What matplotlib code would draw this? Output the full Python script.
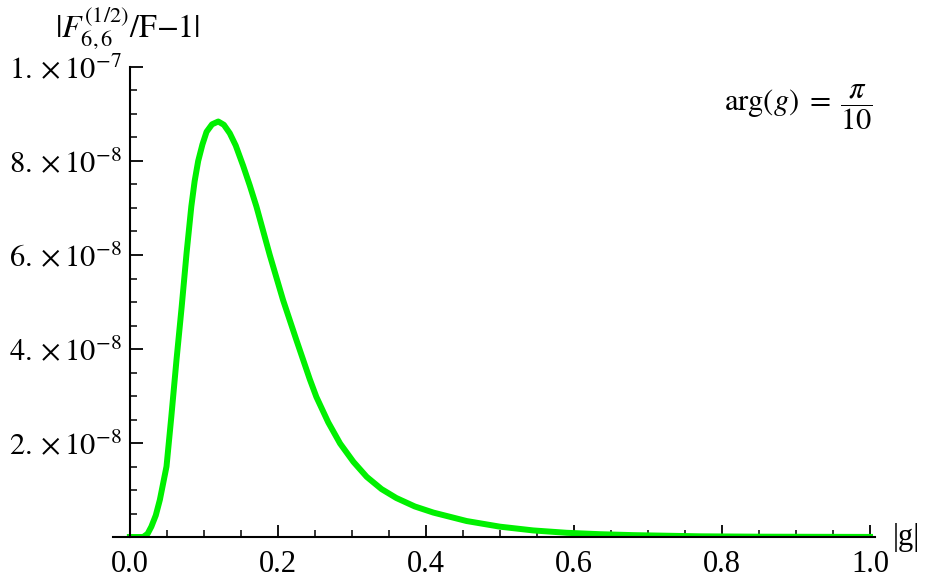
import matplotlib
matplotlib.use("Agg")
import matplotlib.pyplot as plt
from matplotlib.ticker import MultipleLocator, FixedLocator

plt.rcParams['mathtext.fontset'] = 'stix'
plt.rcParams['font.family'] = ['Liberation Serif', 'DejaVu Serif']

# curve: |g| and |F/F-1| (in units of 1e-7)
g = [0.0, 0.018, 0.024, 0.029, 0.035, 0.0405, 0.0495, 0.056, 0.063, 0.070,
     0.0766, 0.083, 0.0875, 0.0923, 0.098, 0.1036, 0.111, 0.1194, 0.127, 0.135,
     0.143, 0.153, 0.162, 0.171, 0.189, 0.207, 0.225, 0.243, 0.252, 0.268,
     0.284, 0.302, 0.320, 0.340, 0.360, 0.385, 0.41, 0.435, 0.455, 0.5,
     0.545, 0.59, 0.635, 0.68, 0.77, 0.85, 1.0]
dev = [0.0, 0.0, 0.007, 0.022, 0.046, 0.079, 0.150, 0.256, 0.377, 0.490,
       0.604, 0.703, 0.757, 0.800, 0.835, 0.862, 0.878, 0.884, 0.877, 0.859,
       0.833, 0.790, 0.748, 0.703, 0.600, 0.504, 0.419, 0.336, 0.298, 0.244,
       0.199, 0.160, 0.128, 0.102, 0.083, 0.065, 0.052, 0.042, 0.034, 0.022,
       0.014, 0.009, 0.006, 0.004, 0.0015, 0.0007, 0.0002]
dev = [v * 1e-7 for v in dev]

xticks = [0.0, 0.2, 0.4, 0.6, 0.8, 1.0]
xlabels = ["0.0", "0.2", "0.4", "0.6", "0.8", "1.0"]
yticks = [2e-8, 4e-8, 6e-8, 8e-8, 1e-7]
ylabels = [r"$2.\times10^{-8}$", r"$4.\times10^{-8}$", r"$6.\times10^{-8}$",
           r"$8.\times10^{-8}$", r"$1.\times10^{-7}$"]

fig = plt.figure(figsize=(9.25, 5.77), dpi=100)
ax = fig.add_axes([0.122, 0.0693, 0.824, 0.8146])

ax.plot(g, dev, color="#00f000", linewidth=4.3, solid_joinstyle="round", zorder=3)

ax.set_xlim(-0.023, 1.0068)
ax.set_ylim(0, 1.0e-7)

ax.spines['left'].set_position(('data', 0))
ax.spines['bottom'].set_position(('data', 0))
ax.spines['right'].set_visible(False)
ax.spines['top'].set_visible(False)
for s in ('left', 'bottom'):
    ax.spines[s].set_linewidth(1.5)
    ax.spines[s].set_zorder(4)

ax.xaxis.set_major_locator(FixedLocator(xticks))
ax.set_xticklabels(xlabels)
ax.xaxis.set_minor_locator(MultipleLocator(0.05))
ax.yaxis.set_major_locator(FixedLocator(yticks))
ax.set_yticklabels(ylabels)
ax.yaxis.set_minor_locator(MultipleLocator(0.5e-8))

ax.tick_params(which='major', direction='in', length=9, width=1.3, labelsize=22)
ax.tick_params(which='minor', direction='in', length=5, width=1.1)
ax.tick_params(axis='x', which='major', pad=9)
ax.tick_params(axis='y', which='major', pad=6)

fig.text(0.965, 0.069, "|g|", fontsize=22, ha='left', va='center')
fig.text(0.138, 0.952, r"$|F_{6,6}^{(1/2)}/\mathrm{F}{-}1|$", fontsize=23, ha='center', va='center')
fig.text(0.944, 0.815, r"$\mathrm{arg}(g)\;=\;\dfrac{\pi}{10}$", fontsize=22, ha='right', va='center')

fig.savefig("out.png", dpi=100)
